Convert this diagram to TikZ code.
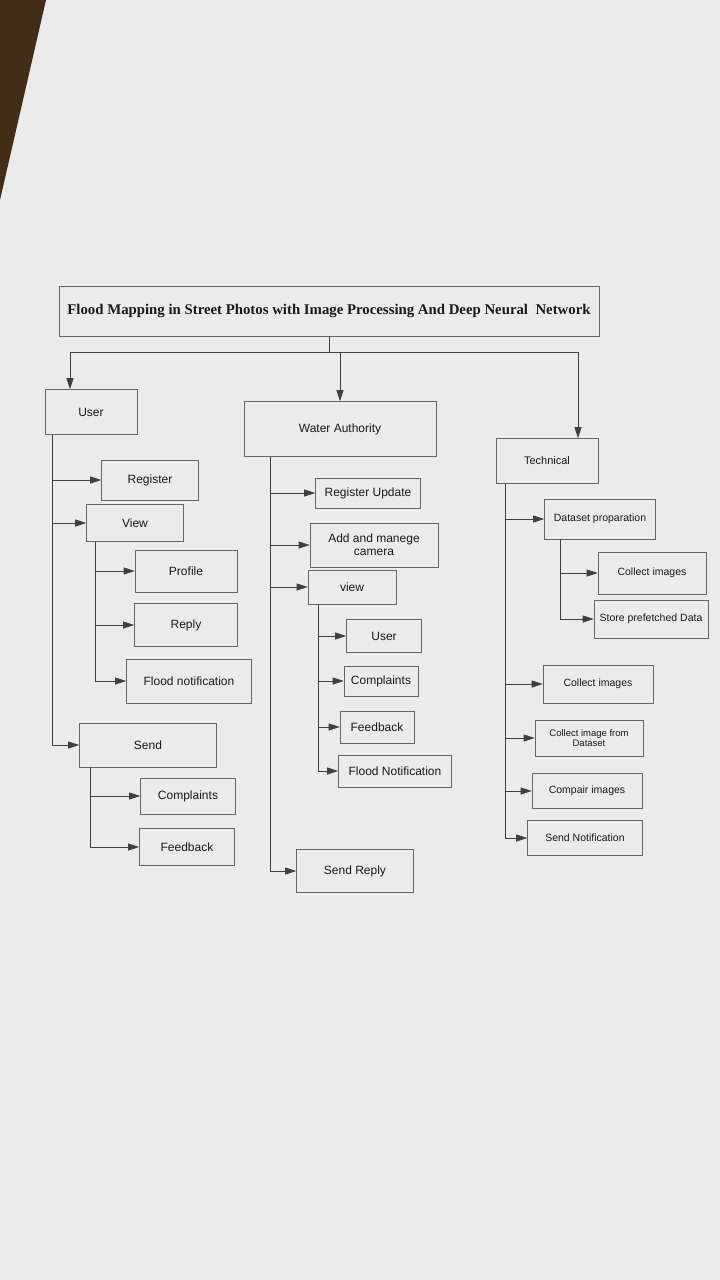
\documentclass[tikz,border=0pt]{standalone}
\usepackage{fontspec}
\setmainfont{Liberation Serif}
\setsansfont{Liberation Sans}
\usetikzlibrary{arrows.meta}
\tikzset{
	box/.style={draw=black!60, line width=0.6pt, text=black!90, align=center, inner sep=2pt,
			font=\sffamily\fontsize{12}{13}\selectfont},
	smallbox/.style={box, font=\sffamily\fontsize{10.5}{10.5}\selectfont},
	line/.style={draw=black!75, line width=0.7pt},
	link/.style={line, -{Triangle[length=11pt,width=7pt]}}
}

\begin{document}
\begin{tikzpicture}[x=1pt,y=-1pt]
			\useasboundingbox [fill=black!8] (0,0) rectangle (720,1280);
			\fill [brown!35!black] (0,0)--(46,0)--(0,200)--cycle;

			\node [box, minimum width=540, minimum height=50, font=\bfseries\fontsize{14.8}{16}\selectfont]
				(title) at (329,311) {Flood Mapping in Street Photos with Image Processing And Deep Neural~ Network};

			\node [box, minimum width=92, minimum height=45] (user) at (91,412) {User};
			\node [box, minimum width=192, minimum height=55] (authority) at (340,429) {Water Authority};
			\node [box, minimum width=102, minimum height=45, font=\sffamily\fontsize{11}{12}\selectfont]
				(technical) at (547,461) {Technical};

			\node [box, minimum width=97, minimum height=40] (register) at (150,480) {Register};
			\node [box, minimum width=97, minimum height=37] (view) at (135,523) {View};
			\node [box, minimum width=102, minimum height=42] (profile) at (186,571) {Profile};
			\node [box, minimum width=103, minimum height=43] (reply) at (186,625) {Reply};
			\node [box, minimum width=125, minimum height=44] (floodnote) at (189,681) {Flood notification};
			\node [box, minimum width=137, minimum height=44] (send) at (148,745) {Send};
			\node [box, minimum width=95, minimum height=36] (complaints) at (188,796) {Complaints};
			\node [box, minimum width=95, minimum height=37] (feedback) at (187,847) {Feedback};

			\node [box, minimum width=105, minimum height=30] (regupdate) at (368,493) {Register Update};
			\node [box, minimum width=128, minimum height=44] (camera) at (374,545) {Add and manege\\camera};
			\node [box, minimum width=88, minimum height=34] (waview) at (352,587) {view};
			\node [box, minimum width=75, minimum height=33] (wauser) at (384,636) {User};
			\node [box, minimum width=74, minimum height=30] (wacomplaints) at (381,681) {Complaints};
			\node [box, minimum width=74, minimum height=32] (wafeedback) at (377,727) {Feedback};
			\node [box, minimum width=113, minimum height=32] (waflood) at (395,771) {Flood Notification};
			\node [box, minimum width=117, minimum height=43] (sendreply) at (355,871) {Send Reply};

			\node [smallbox, minimum width=111, minimum height=40] (dataset) at (600,519) {Dataset proparation};
			\node [smallbox, minimum width=108, minimum height=42] (collect) at (652,573) {Collect images};
			\node [smallbox, minimum width=114, minimum height=38] (store) at (651,619) {Store prefetched Data};
			\node [smallbox, minimum width=110, minimum height=38] (collecttwo) at (598,684) {Collect images};
			\node [smallbox, minimum width=108, minimum height=36, font=\sffamily\fontsize{9.5}{9.5}\selectfont]
				(fromdataset) at (589,738) {Collect image from\\Dataset};
			\node [smallbox, minimum width=110, minimum height=35] (compair) at (587,791) {Compair images};
			\node [smallbox, minimum width=115, minimum height=35] (sendnote) at (585,838) {Send Notification};

			\coordinate (bus) at ([yshift=-16pt]title.south);
			\draw [line] (title.south) -- (bus);
			\draw [line] ([xshift=-21pt]user.north |- bus) -- ([xshift=31pt]technical.north |- bus);
			\draw [link] ([xshift=-21pt]user.north |- bus) -- ([xshift=-21pt]user.north);
			\draw [link] (authority.north |- bus) -- (authority.north);
			\draw [link] ([xshift=31pt]technical.north |- bus) -- ([xshift=31pt]technical.north);

			\coordinate (usertrunk) at ([xshift=-39pt]user.south);
			\draw [link] (usertrunk) |- (register);
			\draw [link] (usertrunk) |- (view);
			\draw [link] (usertrunk) |- (send);

			\coordinate (viewtrunk) at ([xshift=-40pt]view.south);
			\draw [link] (viewtrunk) |- (profile);
			\draw [link] (viewtrunk) |- (reply);
			\draw [link] (viewtrunk) |- (floodnote);

			\coordinate (sendtrunk) at ([xshift=-58pt]send.south);
			\draw [link] (sendtrunk) |- (complaints);
			\draw [link] (sendtrunk) |- (feedback);

			\coordinate (authtrunk) at ([xshift=-70pt]authority.south);
			\draw [link] (authtrunk) |- (regupdate);
			\draw [link] (authtrunk) |- (camera);
			\draw [link] (authtrunk) |- (waview);
			\draw [link] (authtrunk) |- (sendreply);

			\coordinate (waviewtrunk) at ([xshift=-34pt]waview.south);
			\draw [link] (waviewtrunk) |- (wauser);
			\draw [link] (waviewtrunk) |- (wacomplaints);
			\draw [link] (waviewtrunk) |- (wafeedback);
			\draw [link] (waviewtrunk) |- (waflood);

			\coordinate (techtrunk) at ([xshift=-42pt]technical.south);
			\draw [link] (techtrunk) |- (dataset);
			\draw [link] (techtrunk) |- (collecttwo);
			\draw [link] (techtrunk) |- (fromdataset);
			\draw [link] (techtrunk) |- (compair);
			\draw [link] (techtrunk) |- (sendnote);

			\coordinate (datatrunk) at ([xshift=-40pt]dataset.south);
			\draw [link] (datatrunk) |- (collect);
			\draw [link] (datatrunk) |- (store);
		\end{tikzpicture}
\end{document}
